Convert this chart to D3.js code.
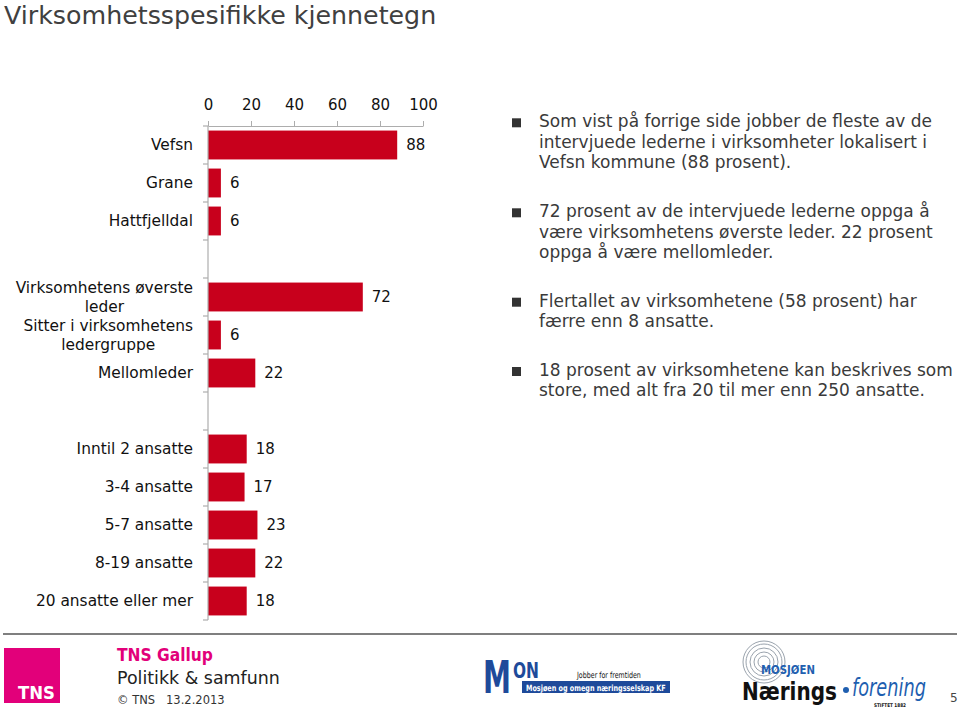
<!DOCTYPE html>
<html>
<head>
<meta charset="utf-8">
<script src="https://cdn.jsdelivr.net/npm/d3@7/dist/d3.min.js"></script>
<style>
  html, body { margin: 0; padding: 0; background: #fff; }
  svg { display: block; }
  text { font-family: "DejaVu Sans", Verdana, sans-serif; }
</style>
</head>
<body>
<svg id="chart" width="960" height="708"></svg>
<script>
// ---- data ----
const title = "Virksomhetsspesifikke kjennetegn";
const categories = [
  "Vefsn", "Grane", "Hattfjelldal", "gap1",
  "Virksomhetens øverste|leder", "Sitter i virksomhetens|ledergruppe", "Mellomleder", "gap2",
  "Inntil 2 ansatte", "3-4 ansatte", "5-7 ansatte", "8-19 ansatte", "20 ansatte eller mer"
];
const values = [88, 6, 6, null, 72, 6, 22, null, 18, 17, 23, 22, 18];
const xTicks = [0, 20, 40, 60, 80, 100];
const bullets = [
  ["Som vist på forrige side jobber de fleste av de", "intervjuede lederne i virksomheter lokalisert i", "Vefsn kommune (88 prosent)."],
  ["72 prosent av de intervjuede lederne oppga å", "være virksomhetens øverste leder. 22 prosent", "oppga å være mellomleder."],
  ["Flertallet av virksomhetene (58 prosent) har", "færre enn 8 ansatte."],
  ["18 prosent av virksomhetene kan beskrives som", "store, med alt fra 20 til mer enn 250 ansatte."]
];
const bulletBaselines = [127.3, 217.3, 306.7, 376];

// ---- drawing ----
const svg = d3.select("#chart");
const barColor = "#C8001C";
const axisColor = "#ADADAD";
const labelSize = 15.4;

svg.append("text").attr("x", 4).attr("y", 23.5)
  .attr("font-size", 25.3).attr("fill", "#404040").text(title);

const x = d3.scaleLinear().domain([0, 100]).range([208, 423]);
const y = d3.scaleBand().domain(categories).range([126, 620])
  .paddingInner(0.24).paddingOuter(0.12);

const g = svg.append("g");

// bars
const data = categories.map((c, i) => ({ c, v: values[i] })).filter(d => d.v !== null);
g.selectAll("rect.bar").data(data).join("rect")
  .attr("class", "bar")
  .attr("x", x(0)).attr("y", d => y(d.c))
  .attr("width", d => x(d.v) - x(0)).attr("height", y.bandwidth())
  .attr("fill", barColor);

// value labels
g.selectAll("text.val").data(data).join("text")
  .attr("class", "val")
  .attr("x", d => x(d.v) + 9)
  .attr("y", d => y(d.c) + y.bandwidth() / 2)
  .attr("dy", "0.35em")
  .attr("font-size", 15).attr("fill", "#111")
  .text(d => d.v);

// top x axis
const xAxis = d3.axisTop(x).tickValues(xTicks).tickSize(5).tickSizeOuter(0).tickPadding(11);
const xg = svg.append("g").attr("transform", "translate(0,126)").call(xAxis);
xg.select(".domain").attr("stroke", axisColor);
xg.selectAll(".tick line").attr("stroke", axisColor);
xg.selectAll(".tick text").attr("font-size", 15).attr("fill", "#111")
  .attr("font-family", "DejaVu Sans, Verdana, sans-serif");

// y axis line + boundary ticks
const step = y.step();
const boundaries = d3.range(categories.length + 1).map(k => y.range()[0] + k * step);
svg.append("line").attr("x1", x(0)).attr("x2", x(0))
  .attr("y1", y.range()[0]).attr("y2", y.range()[1])
  .attr("stroke", axisColor).attr("stroke-width", 1.2);
svg.selectAll("line.ytick").data(boundaries).join("line")
  .attr("class", "ytick")
  .attr("x1", x(0) - 5).attr("x2", x(0))
  .attr("y1", d => d).attr("y2", d => d)
  .attr("stroke", axisColor).attr("stroke-width", 1.2);

// category labels
const labelRight = 193;
categories.forEach(c => {
  if (c.startsWith("gap")) return;
  const lines = c.split("|");
  const cy = y(c) + y.bandwidth() / 2;
  const t = svg.append("text").attr("font-size", labelSize).attr("fill", "#111");
  if (lines.length === 1) {
    t.attr("x", labelRight).attr("y", cy).attr("dy", "0.35em")
      .attr("text-anchor", "end").text(c);
  } else {
    t.attr("text-anchor", "middle");
    const tmp = svg.append("text").attr("font-size", labelSize).text(lines[0]);
    const w = tmp.node().getComputedTextLength();
    tmp.remove();
    const lh = 19;
    lines.forEach((ln, i) => {
      t.append("tspan").attr("x", labelRight - w / 2)
        .attr("y", cy + (i - (lines.length - 1) / 2) * lh + 5.3)
        .text(ln);
    });
  }
});

// bullets
bullets.forEach((lines, bi) => {
  const b0 = bulletBaselines[bi];
  svg.append("rect").attr("x", 512).attr("y", b0 - 9).attr("width", 9).attr("height", 9)
    .attr("fill", "#333");
  lines.forEach((ln, li) => {
    svg.append("text").attr("x", 539).attr("y", b0 + li * 20.3)
      .attr("font-size", 17).attr("fill", "#3a3a3a").text(ln);
  });
});

// ---- footer ----
// helper: text placed at (x, y) and scaled horizontally to a target width
function fitText(str, x0, y0, width, attrs) {
  const t = svg.append("text").text(str);
  Object.entries(attrs).forEach(([k, v]) => t.attr(k, v));
  const natural = t.node().getComputedTextLength();
  const s = width / natural;
  t.attr("transform", `translate(${x0},${y0}) scale(${s},1)`);
  return t;
}

svg.append("line").attr("x1", 3).attr("x2", 957).attr("y1", 634).attr("y2", 634)
  .attr("stroke", "#555").attr("stroke-width", 1.6);
const pink = "#E2007A";
svg.append("rect").attr("x", 4).attr("y", 648).attr("width", 56).attr("height", 55).attr("fill", pink);
fitText("TNS", 18, 699, 37, { "font-family": "Open Sans, sans-serif", "font-weight": 700, "font-size": 18, "fill": "#fff" });
fitText("TNS Gallup", 117, 661, 96, { "font-family": "Open Sans, sans-serif", "font-weight": 700, "font-size": 18, "fill": pink });
fitText("Politikk & samfunn", 117, 684, 163, { "font-family": "Open Sans, sans-serif", "font-size": 18, "fill": "#222" });
svg.append("text").attr("x", 117).attr("y", 704)
  .attr("font-family", "Open Sans, sans-serif")
  .attr("font-size", 11.5).attr("fill", "#333").attr("xml:space", "preserve")
  .text("© TNS   13.2.2013");

// MON logo
const monBlue = "#1E4A9A";
fitText("M", 483, 693, 28, { "font-family": "Liberation Serif, serif", "font-weight": 700, "font-size": 44, "fill": monBlue });
fitText("ON", 513, 678, 26, { "font-family": "Liberation Serif, serif", "font-weight": 700, "font-size": 21, "fill": monBlue });
svg.append("rect").attr("x", 522).attr("y", 681).attr("width", 148).attr("height", 12).attr("fill", monBlue);
fitText("Mosjøen og omegn næringsselskap KF", 526, 690.5, 140, { "font-family": "Liberation Sans, sans-serif", "font-weight": 700, "font-size": 8.5, "fill": "#fff" });
fitText("Jobber for fremtiden", 577, 678, 64, { "font-family": "Liberation Serif, serif", "font-size": 8.5, "fill": "#111" });

// Næringsforening logo
const nfBlue = "#1F5FB0";
[6, 10, 14, 18, 21].forEach(r => {
  svg.append("circle").attr("cx", 764).attr("cy", 662).attr("r", r)
    .attr("fill", "none").attr("stroke", "#9aa3ad").attr("stroke-width", 1);
});
fitText("MOSJØEN", 761, 673.5, 54, { "font-family": "DejaVu Sans, sans-serif", "font-weight": 700, "font-size": 12, "fill": nfBlue });
fitText("Nærings", 742, 700, 95, { "font-family": "DejaVu Sans, sans-serif", "font-weight": 700, "font-size": 25, "fill": "#111" });
svg.append("circle").attr("cx", 846).attr("cy", 690).attr("r", 3).attr("fill", nfBlue);
fitText("forening", 852, 696, 74, { "font-family": "DejaVu Sans, sans-serif", "font-style": "italic", "font-size": 25, "fill": nfBlue });
fitText("STIFTET 1882", 874, 706.5, 32, { "font-family": "DejaVu Sans, sans-serif", "font-weight": 700, "font-size": 5, "fill": "#111" });
svg.append("text").attr("x", 950).attr("y", 702)
  .attr("font-family", "Open Sans, sans-serif")
  .attr("font-size", 12).attr("fill", "#444").text("5");
</script>
</body>
</html>
